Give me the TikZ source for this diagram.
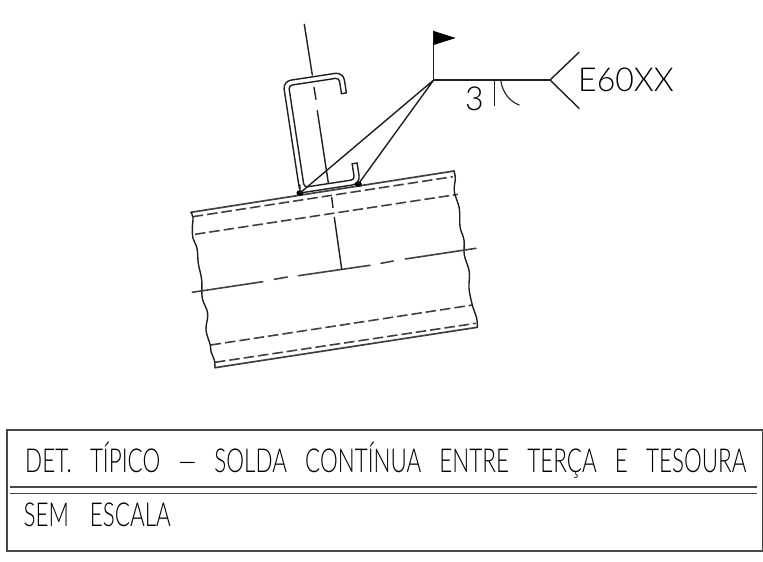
\documentclass[tikz,border=0pt]{standalone}
\usepackage{fontspec}
\newfontfamily\cadfont[FakeStretch=0.68]{Lato Light}
\newfontfamily\cadwide[FakeStretch=0.97]{Lato Light}
\begin{document}
\begin{tikzpicture}[
  x=1pt, y=-1pt,
  cadline/.style={draw=black!88, line width=1.4pt, line cap=round, line join=round},
  hidline/.style={draw=black!75, line width=1.6pt, dash pattern=on 10.5pt off 4pt},
  framerule/.style={draw=black!72, line width=1.6pt},
  cadtext/.style={inner sep=0pt, anchor=base west, font=\cadfont\fontsize{33}{33}\selectfont},
  symtext/.style={inner sep=0pt, anchor=base west, font=\cadwide\fontsize{33}{33}\selectfont}
]
  \useasboundingbox (0,0) rectangle (763,562);

  % Tesoura
  \draw[cadline, draw=black!75, line width=1.7pt] (191,212.3) -- (454,171);
  \draw[cadline, draw=black!75, line width=1.7pt] (215,367.7) -- (477.3,327.3);
  \draw[hidline] (192.7,216.7) -- (453,176.7);
  \draw[hidline] (195,234.3) -- (458,194.3);
  \draw[hidline] (210.7,345) -- (472.7,305);
  \draw[hidline] (215,362.3) -- (476,323.3);
  \draw[cadline] plot[smooth, tension=0.6] coordinates {(191,212.3) (193,217.7) (192.3,228.3) (193,238.3) (197,248.3) (198.3,263.3) (201.7,280) (202.3,298.3) (207.7,313.3) (206,330) (210.3,345) (211,351.7) (214.3,360) (215,367.7)};
  \draw[cadline] plot[smooth, tension=0.6] coordinates {(454,171) (455.3,178.3) (454.3,191.7) (459.3,208.3) (460,226.7) (464,240) (464.3,255) (469.3,271.7) (469,288.3) (472.3,305) (476.7,318.3) (477.3,327.3)};

  % Eixo da tesoura
  \draw[cadline, draw=black!75, line width=1.6pt] (192.3,292.3) -- (262.7,281.7) (274.3,279.3) -- (287.3,277) (298.3,275.7) -- (370,265.3) (381,263.3) -- (393.3,261) (405.3,259) -- (476,248.3);

  % Eixo da terca
  \draw[cadline] (304.3,24.3) -- (312.3,75) (314,87.3) -- (316,99.3) (317.3,110.7) -- (328.3,182.7) (331.7,197.3) -- (333,207.7) (334.3,217.3) -- (341.7,269);

  % Terca
  \begin{scope}[shift={(300,193)}, x={(0.988pt,0.151pt)}, y={(-0.151pt,0.988pt)}]
    \draw[cadline, rounded corners=8pt] (61,92) -- (61,113) -- (0,113) -- (0,0) [rounded corners=0pt] -- (0,0) [rounded corners=8pt] -- (61,0) -- (61,21);
    \draw[cadline, rounded corners=3.5pt] (56,92) -- (56,108) -- (5,108) -- (5,5) -- (56,5) -- (56,21);
    \draw[cadline] (56,92) -- (61,92) (56,21) -- (61,21);
    \coordinate (weldleft) at (0,0);
    \coordinate (weldright) at (59,0);
  \end{scope}
  \fill[black] (weldleft) ellipse [x radius=3.6pt, y radius=2.8pt];
  \fill[black] (weldright) ellipse [x radius=3.6pt, y radius=2.8pt];

  % Simbolo de solda
  \coordinate (refbase) at (433.7,80);
  \coordinate (flagtop) at (433.7,31);
  \coordinate (reftail) at (550,80);
  \draw[cadline] (weldleft) -- (refbase) -- (weldright);
  \draw[cadline] (refbase) -- (flagtop);
  \fill[black] (flagtop) -- (455.7,38) -- (433.7,45) -- cycle;
  \draw[cadline] (refbase) -- (reftail);
  \draw[cadline] (579,52.3) -- (reftail) -- (579,108.3);
  \draw[cadline, line width=1.1pt] (494.7,80) -- (494.7,105.7);
  \draw[cadline, line width=1.1pt] (500.7,80) .. controls (502,92) and (510,102) .. (519.3,105);
  \node[symtext] (legsize) at (465,110.7) {3};
  \node[symtext] (electrode) at (578,91.7) {E60XX};

  % Carimbo
  \draw[framerule] (762.3,430) -- (6.7,430) -- (6.7,550.7) -- (762.3,550.7) -- cycle;
  \draw[framerule] (10,486.7) -- (757,486.7);
  \draw[framerule] (10,493.3) -- (757,493.3);
  \node[cadtext] (title) at (25,472.3) {\spaceskip=18.2pt DET. TÍPICO — SOLDA CONTÍNUA ENTRE TERÇA E TESOURA};
  \node[cadtext] (scalenote) at (23.3,526.7) {\spaceskip=21pt SEM ESCALA};
\end{tikzpicture}
\end{document}
